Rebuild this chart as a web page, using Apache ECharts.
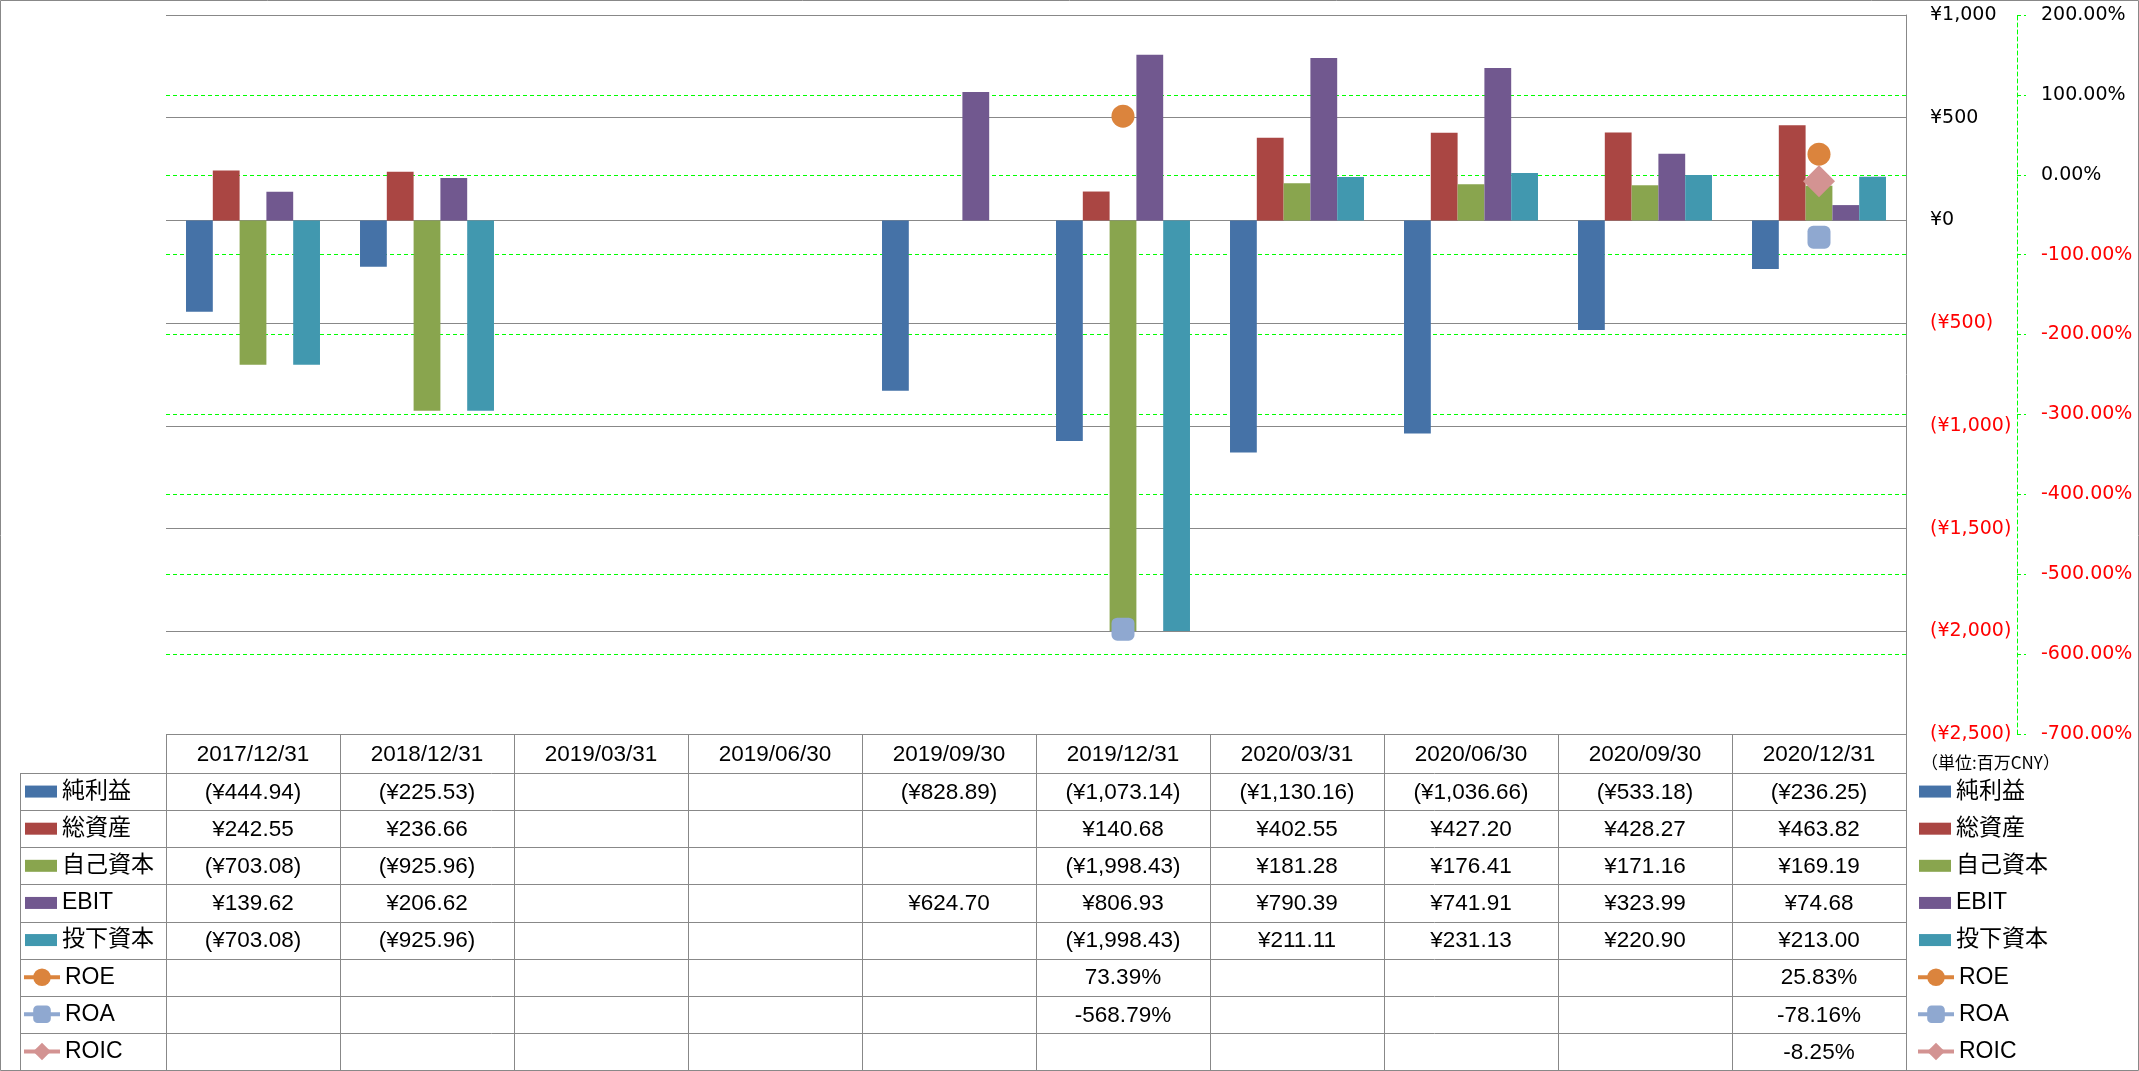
<!DOCTYPE html>
<html><head><meta charset="utf-8">
<script src="https://cdn.jsdelivr.net/npm/echarts@6/dist/echarts.min.js"></script>
<style>html,body{margin:0;padding:0;background:#fff}#c{width:2139px;height:1071px}</style>
</head><body><div id="c"></div>
<script>
const categories = ['2017/12/31','2018/12/31','2019/03/31','2019/06/30','2019/09/30','2019/12/31','2020/03/31','2020/06/30','2020/09/30','2020/12/31'];
const netIncome = [-444.94,-225.53,null,null,-828.89,-1073.14,-1130.16,-1036.66,-533.18,-236.25];
const totalAssets = [242.55,236.66,null,null,null,140.68,402.55,427.20,428.27,463.82];
const equity = [-703.08,-925.96,null,null,null,-1998.43,181.28,176.41,171.16,169.19];
const ebit = [139.62,206.62,null,null,624.70,806.93,790.39,741.91,323.99,74.68];
const investedCapital = [-703.08,-925.96,null,null,null,-1998.43,211.11,231.13,220.90,213.00];
const roe = [null,null,null,null,null,73.39,null,null,null,25.83];
const roa = [null,null,null,null,null,-568.79,null,null,null,-78.16];
const roic = [null,null,null,null,null,null,null,null,null,-8.25];
const barNames = ['純利益','総資産','自己資本','EBIT','投下資本'];
const lineNames = ['ROE','ROA','ROIC'];
const unitLabel = '（単位:百万CNY）';
const yenAxis = {min:-2500, max:1000, interval:500};
const pctAxis = {min:-700, max:200, interval:100};

const barColors = ['#4572A7','#AA4643','#89A54E','#71588F','#4198AF'];
const lineColors = ['#DB843D','#8FA8D0','#D39392'];
const lineSymbols = ['circle','roundRect','diamond'];
const lineSymbolSizes = [23,23,32];

const barData = [netIncome,totalAssets,equity,ebit,investedCapital];
const lineData = [roe,roa,roic];

const fontTable = "'Liberation Sans','Noto Sans CJK JP',sans-serif";
const fontAxis = "'DejaVu Sans',sans-serif";

function fmtNum(v, d){ return Math.abs(v).toLocaleString('en-US',{minimumFractionDigits:d, maximumFractionDigits:d}); }
function fmtYen(v){ return v<0 ? '(¥'+fmtNum(v,2)+')' : '¥'+fmtNum(v,2); }
function fmtYenAxis(v){ v=+v; return v<0 ? '(¥'+fmtNum(v,0)+')' : '¥'+fmtNum(v,0); }
function fmtPct(v){ return (+v).toFixed(2)+'%'; }
const negRed = v => (+v<0 ? '#ff0000' : '#000000');

const GL = 166, GT = 15, GW = 1740, GH = 719;
const gridColor = '#888888';
const green = '#00ff00';

const chart = echarts.init(document.getElementById('c'), null, {renderer:'canvas'});

const series = [];
barNames.forEach((n,i)=>{
  series.push({type:'bar', name:n, data:barData[i], yAxisIndex:0,
    barGap:'0%', barCategoryGap:'23%', itemStyle:{color:barColors[i]}});
});
lineNames.forEach((n,i)=>{
  series.push({type:'line', name:n, data:lineData[i], yAxisIndex:1,
    symbol:lineSymbols[i], symbolSize:lineSymbolSizes[i], showSymbol:true, showAllSymbol:true,
    connectNulls:false, z:5,
    itemStyle:{color:lineColors[i]}, lineStyle:{color:lineColors[i], width:4}});
});

const legendBase = {orient:'vertical', itemWidth:32, itemGap:0, padding:0, selectedMode:false,
  textStyle:{fontFamily:fontTable, fontSize:23, color:'#000', lineHeight:37.125}};
const lineLegend = {itemWidth:36, itemHeight:22, lineStyle:{width:4}};
const rowTop = 773, rowH = (1070-773)/8, headerTop = 734;

const option = {
  animation:false,
  backgroundColor:'#ffffff',
  grid:{left:GL, top:GT, width:GW, height:GH},
  xAxis:{type:'category', data:categories, axisLine:{show:false}, axisTick:{show:false},
    axisLabel:{show:false}, splitLine:{show:false}},
  yAxis:[
    {type:'value', position:'right', min:yenAxis.min, max:yenAxis.max, interval:yenAxis.interval,
     axisLine:{show:true, lineStyle:{color:gridColor, width:1}}, axisTick:{show:false},
     axisLabel:{margin:24, fontFamily:fontAxis, fontSize:19, color:negRed, formatter:fmtYenAxis},
     splitLine:{show:true, lineStyle:{color:gridColor, width:1}}},
    {type:'value', position:'right', offset:111, min:pctAxis.min, max:pctAxis.max, interval:pctAxis.interval,
     axisLine:{show:true, lineStyle:{color:green, width:1, type:[4,3]}},
     axisTick:{show:true, length:9, lineStyle:{color:green, width:1, type:[4,3]}},
     axisLabel:{margin:24, fontFamily:fontAxis, fontSize:19, color:negRed, formatter:fmtPct},
     splitLine:{show:true, showMinLine:false, showMaxLine:false, lineStyle:{color:green, width:1, type:[4,3]}}}
  ],
  legend:[
    Object.assign({}, legendBase, {left:25, top:rowTop, itemHeight:12, data:barNames.map(n=>({name:n, icon:'rect'}))}),
    Object.assign({}, legendBase, lineLegend, {left:22, top:rowTop+5*rowH, data:lineNames.slice()}),
    Object.assign({}, legendBase, {left:1919, top:rowTop, itemHeight:12, data:barNames.map(n=>({name:n, icon:'rect'}))}),
    Object.assign({}, legendBase, lineLegend, {left:1916, top:rowTop+5*rowH, data:lineNames.slice()})
  ],
  series:series
};
chart.setOption(option);

// Build the data table under the plot, aligned with the category axis
const colCenters = categories.map(c => chart.convertToPixel({xAxisIndex:0}, c));
const colW = GW / categories.length;
const right = GL + GW;
const g = [];
const lineStyle = {stroke:gridColor, lineWidth:1};
const px = v => Math.round(v)+0.5;
g.push({type:'rect', silent:true, z:100, shape:{x:0.5,y:0.5,width:2138,height:1070}, style:{fill:null, stroke:gridColor, lineWidth:1}});
g.push({type:'line', silent:true, shape:{x1:GL, y1:px(headerTop), x2:right, y2:px(headerTop)}, style:lineStyle});
for(let r=0;r<=8;r++){
  const y = px(rowTop + r*rowH);
  g.push({type:'line', silent:true, shape:{x1:20, y1:y, x2:right, y2:y}, style:lineStyle});
}
for(let k=0;k<=categories.length;k++){
  const x = px(GL + k*colW);
  g.push({type:'line', silent:true, shape:{x1:x, y1:headerTop, x2:x, y2:1071}, style:lineStyle});
}
g.push({type:'line', silent:true, shape:{x1:20.5, y1:rowTop, x2:20.5, y2:1071}, style:lineStyle});
categories.forEach((c,i)=>{
  g.push({type:'text', silent:true, x:colCenters[i], y:(headerTop+rowTop)/2+1,
    style:{text:c, fontFamily:fontTable, fontSize:22.5, fill:'#000', align:'center', verticalAlign:'middle'}});
});
const rowsData = barData.concat(lineData);
rowsData.forEach((arr,r)=>{
  const fmt = r<5 ? fmtYen : fmtPct;
  arr.forEach((v,i)=>{
    if(v===null || v===undefined) return;
    g.push({type:'text', silent:true, x:colCenters[i], y:rowTop + (r+0.5)*rowH + 1,
      style:{text:fmt(v), fontFamily:fontTable, fontSize:22.5, fill:'#000', align:'center', verticalAlign:'middle'}});
  });
});
g.push({type:'text', silent:true, x:1921, y:763,
  style:{text:unitLabel, fontFamily:"'Noto Sans CJK JP',sans-serif", fontSize:17, fill:'#000', align:'left', verticalAlign:'middle'}});
chart.setOption({graphic:{elements:g}});
</script>
</body></html>
